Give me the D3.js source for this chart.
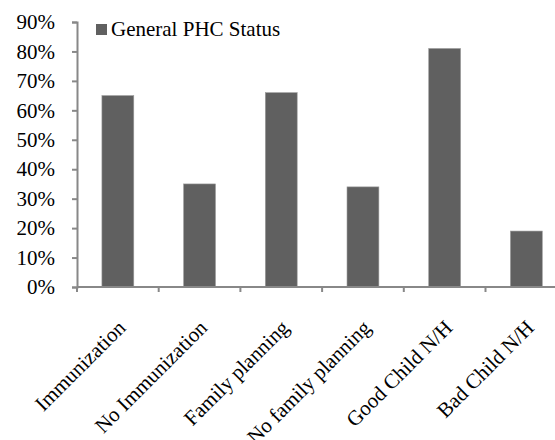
<!DOCTYPE html>
<html>
<head>
<meta charset="utf-8">
<script src="https://cdn.jsdelivr.net/npm/d3@7"></script>
<style>
  html, body { margin: 0; padding: 0; background: #fff; }
  svg { display: block; }
  text { font-family: "Liberation Serif", "Times New Roman", serif; fill: #000; }
</style>
</head>
<body>
<svg id="chart" width="555" height="440"></svg>
<script>
// Share of PHCs by service status
const categories = ["Immunization", "No Immunization", "Family planning", "No family planning", "Good Child N/H", "Bad Child N/H"];
const values = [0.65, 0.35, 0.66, 0.34, 0.81, 0.19];
const yTicks = [0, 0.1, 0.2, 0.3, 0.4, 0.5, 0.6, 0.7, 0.8, 0.9];
const seriesName = "General PHC Status";

const svg = d3.select("#chart");
const plotLeft = 77, plotTop = 22, plotBottom = 287;
const bandW = 81.7;
const plotRight = plotLeft + bandW * categories.length;

const x = d3.scaleBand().domain(categories).range([plotLeft, plotRight]).paddingInner(0.61).paddingOuter(0.305);
const y = d3.scaleLinear().domain([0, 0.9]).range([plotBottom, plotTop]);

const axisColor = "#888";
const serif = "'Liberation Serif', 'Times New Roman', serif";

// bars
svg.append("g").selectAll("rect")
  .data(categories)
  .join("rect")
  .attr("x", d => x(d))
  .attr("width", x.bandwidth())
  .attr("y", (d, i) => y(values[i]))
  .attr("height", (d, i) => y(0) - y(values[i]))
  .attr("fill", "#606060")
  .attr("stroke", "#9a9a9a")
  .attr("stroke-width", 0.6);

// y axis
const yAxis = svg.append("g")
  .attr("transform", `translate(${plotLeft},0)`)
  .call(d3.axisLeft(y).tickValues(yTicks).tickFormat(d3.format(".0%")).tickSize(5).tickPadding(17));
yAxis.attr("font-family", null).attr("font-size", null);
yAxis.select(".domain").attr("stroke", axisColor).attr("stroke-width", 2);
yAxis.selectAll(".tick line").attr("stroke", axisColor).attr("stroke-width", 2);
yAxis.selectAll(".tick text").style("font-family", serif).style("font-size", "21px").attr("fill", "#000");

// x axis with ticks on band boundaries
const boundaries = d3.range(categories.length + 1).map(i => plotLeft + i * bandW);
const xg = svg.append("g");
xg.append("line")
  .attr("x1", plotLeft).attr("x2", plotRight)
  .attr("y1", plotBottom).attr("y2", plotBottom)
  .attr("stroke", axisColor).attr("stroke-width", 2);
xg.selectAll("line.tk")
  .data(boundaries)
  .join("line")
  .attr("class", "tk")
  .attr("x1", d => d).attr("x2", d => d)
  .attr("y1", plotBottom).attr("y2", plotBottom + 5)
  .attr("stroke", axisColor).attr("stroke-width", 2);

// rotated category labels
xg.selectAll("text")
  .data(categories)
  .join("text")
  .attr("text-anchor", "end")
  .style("font-family", serif)
  .style("font-size", "21px")
  .attr("transform", d => `translate(${x(d) + x.bandwidth() / 2 + 9},${plotBottom + 42}) rotate(-45)`)
  .text(d => d);

// legend
const lg = svg.append("g");
lg.append("rect").attr("x", 96).attr("y", 24).attr("width", 11).attr("height", 11).attr("fill", "#606060");
lg.append("text").attr("x", 111).attr("y", 36).style("font-family", serif).style("font-size", "21px").text(seriesName);
</script>
</body>
</html>
